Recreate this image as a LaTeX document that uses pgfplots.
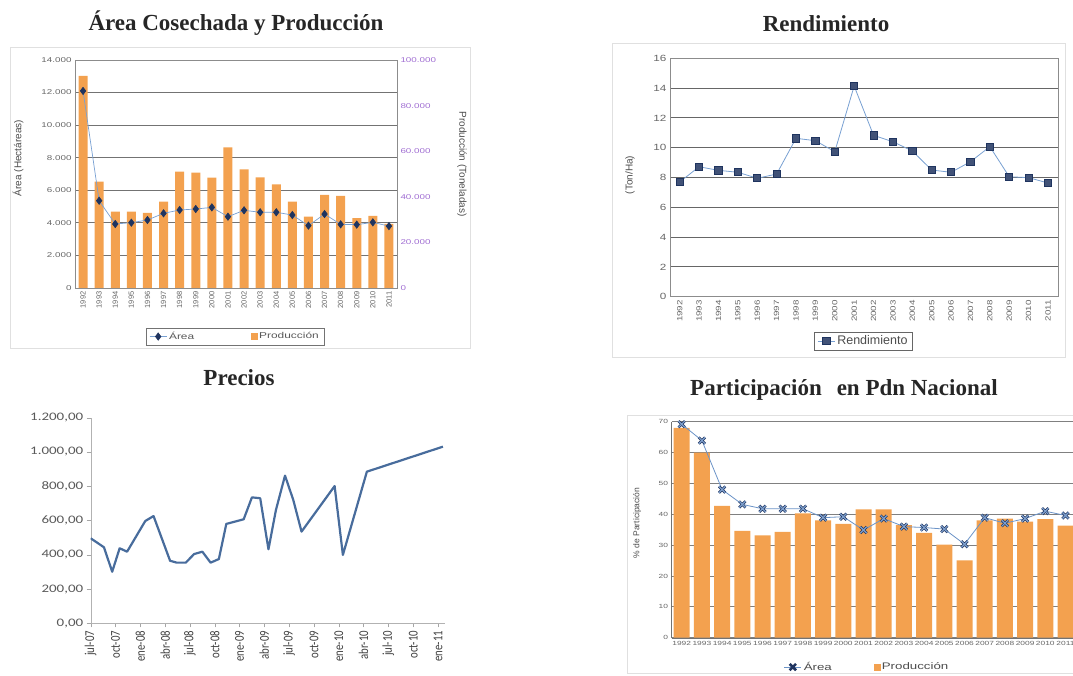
\documentclass[border=0pt]{standalone}
\usepackage{fontspec}
\setmainfont{Liberation Serif}
\setsansfont{Liberation Sans}
\newfontfamily\wsans[FakeStretch=1.4]{Liberation Sans}
\newfontfamily\rsans[FakeStretch=1.3]{Liberation Sans}
\newfontfamily\calw[FakeStretch=1.3]{Carlito}
\newfontfamily\caln[FakeStretch=0.8]{Carlito}
\usepackage{pgfplots}
\pgfplotsset{compat=1.18}

\definecolor{barora}{RGB}{243,161,79}
\definecolor{navy}{RGB}{31,52,95}
\definecolor{lineblue}{RGB}{120,160,210}
\definecolor{prline}{RGB}{72,108,156}
\definecolor{purp}{RGB}{160,110,210}
\definecolor{xblue}{RGB}{70,120,185}

\pgfplotsset{
  every axis/.append style={scale only axis, anchor=south west,
    /pgf/number format/assume math mode=true},
  yrs/.style={xtick={0,...,19},
    xticklabels={1992,1993,1994,1995,1996,1997,1998,1999,2000,2001,
      2002,2003,2004,2005,2006,2007,2008,2009,2010,2011}},
}

\begin{document}
\begin{tikzpicture}[x=1pt,y=1pt]
\path[use as bounding box] (0,0) rectangle (1073,675);
\clip (0,0) rectangle (1073,675);

% light chart frames
\draw[black!12] (10,327) rectangle (470,628);
\draw[black!12] (612,318) rectangle (1065,632);
\draw[black!12] (627,2) rectangle (1090,260);

% titles
\tikzset{ttl/.style={font=\bfseries\fontsize{23}{25}\selectfont, anchor=base, text=black!85}}
\node[ttl] at (236,644) {Área Cosechada y Producción};
\node[ttl] at (826,643) {Rendimiento};
\node[ttl] at (239,289) {Precios};
\node[ttl] at (844,279) {Participación\hspace{0.4em} en Pdn Nacional};

% ---------------- Area cosechada y produccion ----------------
\begin{axis}[at={(75pt,387pt)}, width=322pt, height=228pt,
  xmin=-0.5, xmax=19.5, ymin=0, ymax=14000,
  ytick={0,2000,...,14000}, scaled y ticks=false,
  /pgf/number format/.cd, fixed, 1000 sep={.}, /pgfplots/.cd,
  yrs, ymajorgrids, major grid style={black!55, line width=0.8pt},
  axis line style={black!45}, major tick length=0pt,
  xticklabel style={rotate=90, anchor=east, font=\sffamily\fontsize{7.5}{8}\selectfont, text=black!60},
  yticklabel style={font=\wsans\fontsize{7}{8}\selectfont, text=black!60},
]
\end{axis}
\begin{axis}[at={(75pt,387pt)}, width=322pt, height=228pt,
  xmin=-0.5, xmax=19.5, ymin=0, ymax=100000,
  axis y line*=right, axis x line=none,
  ytick={0,20000,...,100000}, scaled y ticks=false,
  /pgf/number format/.cd, fixed, 1000 sep={.}, /pgfplots/.cd,
  axis line style={black!45}, major tick length=0pt,
  yticklabel style={font=\wsans\fontsize{7}{8}\selectfont, text=purp},
]
\addplot[ybar, fill=barora, draw=none, bar width=9pt] coordinates {
(0,93000) (1,46600) (2,33500) (3,33500) (4,33000) (5,37900) (6,51000)
(7,50600) (8,48400) (9,61700) (10,52000) (11,48500) (12,45500) (13,37900)
(14,31300) (15,40800) (16,40400) (17,30600) (18,31600) (19,28100)};
\end{axis}
\begin{axis}[at={(75pt,387pt)}, width=322pt, height=228pt,
  xmin=-0.5, xmax=19.5, ymin=0, ymax=14000, hide axis,
  legend style={at={(0.497,-0.213)}, anchor=center, legend columns=2,
    draw=black!55, font=\wsans\fontsize{8.5}{9}\selectfont, text=black!65,
    /tikz/every even column/.append style={column sep=55pt}},
]
\addplot[color=lineblue, line width=0.7pt, mark=diamond*, mark size=3.6pt,
  mark options={fill=navy, draw=navy}] coordinates {
(0,12100) (1,5360) (2,3930) (3,4010) (4,4175) (5,4585) (6,4790) (7,4850)
(8,4950) (9,4380) (10,4770) (11,4650) (12,4650) (13,4480) (14,3830)
(15,4540) (16,3910) (17,3890) (18,4030) (19,3800)};
\addlegendentry{Área}
\addlegendimage{only marks, mark=square*, mark size=3pt, mark options={fill=barora, draw=barora}}
\addlegendentry{Producción}
\end{axis}
\node[rotate=90, font=\sffamily\fontsize{10}{11}\selectfont, text=black!70] at (18,517) {Área (Hectáreas)};
\node[rotate=-90, font=\sffamily\fontsize{10}{11}\selectfont, text=black!70] at (462,511) {Producción (Toneladas)};

% ---------------- Rendimiento ----------------
\begin{axis}[at={(670pt,378.3pt)}, width=387.7pt, height=238.4pt,
  xmin=-0.5, xmax=19.5, ymin=0, ymax=16, ytick={0,2,...,16},
  yrs, ymajorgrids, major grid style={black!60, line width=0.8pt},
  axis line style={black!45}, major tick length=0pt,
  xticklabel style={rotate=90, anchor=east, font=\rsans\fontsize{7.5}{8}\selectfont, text=black!60},
  yticklabel style={font=\rsans\fontsize{9}{10}\selectfont, text=black!60},
  legend style={at={(0.499,-0.186)}, anchor=center, draw=black!60,
    font=\sffamily\fontsize{12.5}{13}\selectfont, text=black!70},
]
\addplot[color=lineblue, line width=0.8pt, mark=square*, mark size=3.6pt,
  mark options={fill=navy!85, draw=navy}] coordinates {
(0,7.70) (1,8.72) (2,8.48) (3,8.35) (4,7.95) (5,8.23) (6,10.63) (7,10.47)
(8,9.73) (9,14.14) (10,10.83) (11,10.40) (12,9.78) (13,8.50) (14,8.35)
(15,9.06) (16,10.07) (17,8.05) (18,7.99) (19,7.63)};
\addlegendentry{Rendimiento}
\end{axis}
\node[rotate=90, font=\sffamily\fontsize{10}{11}\selectfont, text=black!70] at (630,500) {(Ton/Ha)};

% ---------------- Precios ----------------
\begin{axis}[at={(90.7pt,51.7pt)}, width=354.3pt, height=205.6pt,
  xmin=0, xmax=42.85, ymin=0, ymax=1200, ytick={0,200,...,1200},
  xtick={0,3,...,42},
  xticklabels={jul-07,oct-07,ene-08,abr-08,jul-08,oct-08,ene-09,abr-09,
    jul-09,oct-09,ene-10,abr-10,jul-10,oct-10,ene-11},
  axis lines*=left, axis line style={black!30}, tick style={black!35},
  tick align=outside, major tick length=4pt,
  /pgf/number format/.cd, fixed, fixed zerofill, precision=2, use comma,
  /pgfplots/.cd,
  xticklabel style={rotate=90, anchor=east, font=\caln\fontsize{13.5}{14}\selectfont, text=black!75},
  yticklabel style={font=\calw\fontsize{11.5}{12}\selectfont, text=black!65},
]
\addplot[color=prline, line width=2.2pt, line join=round] coordinates {
(0,496) (1.6,444) (2.6,301) (3.5,438) (4.4,418) (6.6,597) (7.6,626)
(9.6,365) (10.4,354) (11.5,354) (12.5,404) (13.5,418) (14.5,354)
(15.5,375) (16.4,580) (17.4,593) (18.5,607) (19.5,735) (20.5,730)
(21.5,432) (22.4,661) (23.5,862) (24.5,720) (25.5,535) (29.5,801)
(30.5,399) (33.4,885) (42.6,1031)};
\end{axis}

% ---------------- Participacion ----------------
\begin{axis}[at={(671.6pt,37.3pt)}, width=404pt, height=216pt,
  xmin=-0.5, xmax=19.5, ymin=0, ymax=70, ytick={0,10,...,70},
  yrs, ymajorgrids, major grid style={black!50, line width=0.8pt},
  axis x line*=bottom, axis y line*=left, axis line style={black!55},
  major tick length=0pt,
  xticklabel style={font=\wsans\fontsize{6}{6}\selectfont, text=black!60},
  yticklabel style={font=\wsans\fontsize{6}{6}\selectfont, text=black!60},
  legend style={at={(0.484,-0.136)}, anchor=center, legend columns=2, draw=none, fill=none,
    font=\wsans\fontsize{9.5}{10}\selectfont, text=black!70,
    /tikz/every even column/.append style={column sep=40pt}},
]
\addplot[ybar, fill=barora, draw=none, bar width=16pt, forget plot] coordinates {
(0,68) (1,60) (2,42.7) (3,34.6) (4,33.2) (5,34.3) (6,40.3) (7,38)
(8,36.9) (9,41.6) (10,41.6) (11,36.5) (12,34) (13,30.2) (14,25.1)
(15,38) (16,38.6) (17,37.6) (18,38.4) (19,36.3)};
\addplot[color=xblue!80, line width=0.8pt, mark=x, mark size=4.5pt,
  mark options={line width=2.6pt, draw=navy}] coordinates {
(0,69.2) (1,63.9) (2,48) (3,43.2) (4,41.8) (5,41.8) (6,41.8) (7,38.9)
(8,39.2) (9,34.9) (10,38.6) (11,36) (12,35.7) (13,35.2) (14,30.3)
(15,38.9) (16,37.1) (17,38.6) (18,41) (19,39.6)};
\addlegendentry{Área}
\addplot[only marks, mark=x, mark size=4.5pt, mark options={line width=1.2pt, draw=xblue!70!white},
  forget plot] coordinates {
(0,69.2) (1,63.9) (2,48) (3,43.2) (4,41.8) (5,41.8) (6,41.8) (7,38.9)
(8,39.2) (9,34.9) (10,38.6) (11,36) (12,35.7) (13,35.2) (14,30.3)
(15,38.9) (16,37.1) (17,38.6) (18,41) (19,39.6)};
\addlegendimage{only marks, mark=square*, mark size=3pt, mark options={fill=barora, draw=barora}}
\addlegendentry{Producción}
\end{axis}
\node[rotate=90, font=\sffamily\fontsize{8.5}{9}\selectfont, text=black!70] at (637,152) {\% de Participación};

\end{tikzpicture}
\end{document}
